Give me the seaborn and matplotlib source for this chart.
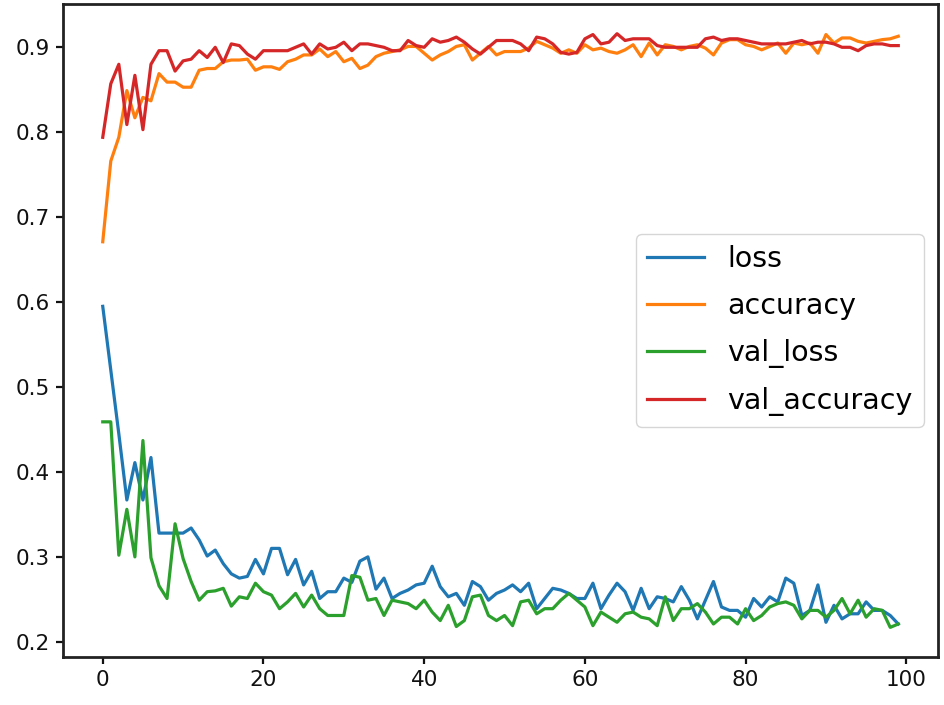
import pandas as pd
import matplotlib
matplotlib.use("Agg")
import matplotlib.pyplot as plt
import seaborn as sns

# training history (100 epochs)
loss = [0.595, 0.52, 0.445, 0.367, 0.411, 0.367, 0.417, 0.328, 0.328, 0.328,
        0.328, 0.334, 0.32, 0.301, 0.308, 0.292, 0.28, 0.275, 0.277, 0.297,
        0.28, 0.31, 0.31, 0.279, 0.297, 0.267, 0.283, 0.251, 0.259, 0.259,
        0.275, 0.27, 0.295, 0.30, 0.262, 0.275, 0.251, 0.257, 0.261, 0.267,
        0.269, 0.289, 0.265, 0.253, 0.257, 0.243, 0.271, 0.265, 0.249, 0.257,
        0.261, 0.267, 0.259, 0.269, 0.239, 0.251, 0.263, 0.261, 0.257, 0.251,
        0.251, 0.269, 0.239, 0.255, 0.269, 0.259, 0.237, 0.263, 0.239, 0.253,
        0.251, 0.247, 0.265, 0.249, 0.227, 0.249, 0.271, 0.241, 0.237, 0.237,
        0.229, 0.251, 0.241, 0.253, 0.247, 0.275, 0.269, 0.231, 0.237, 0.267,
        0.223, 0.243, 0.227, 0.233, 0.233, 0.247, 0.237, 0.237, 0.231, 0.221]

accuracy = [0.671, 0.766, 0.794, 0.849, 0.817, 0.841, 0.837, 0.869, 0.859, 0.859,
            0.853, 0.853, 0.873, 0.875, 0.875, 0.883, 0.885, 0.885, 0.886, 0.873,
            0.877, 0.877, 0.874, 0.883, 0.886, 0.891, 0.891, 0.898, 0.889, 0.895,
            0.883, 0.887, 0.875, 0.879, 0.889, 0.893, 0.895, 0.897, 0.901, 0.901,
            0.893, 0.885, 0.891, 0.895, 0.901, 0.903, 0.885, 0.893, 0.901, 0.891,
            0.895, 0.895, 0.895, 0.899, 0.907, 0.903, 0.899, 0.893, 0.897, 0.893,
            0.903, 0.897, 0.899, 0.895, 0.893, 0.897, 0.903, 0.889, 0.905, 0.891,
            0.903, 0.901, 0.897, 0.901, 0.903, 0.899, 0.891, 0.905, 0.909, 0.909,
            0.903, 0.901, 0.897, 0.901, 0.905, 0.893, 0.905, 0.903, 0.905, 0.893,
            0.915, 0.905, 0.911, 0.911, 0.907, 0.905, 0.907, 0.909, 0.910, 0.913]

val_loss = [0.459, 0.459, 0.302, 0.356, 0.300, 0.437, 0.299, 0.266, 0.251, 0.339,
            0.298, 0.271, 0.249, 0.259, 0.260, 0.263, 0.242, 0.253, 0.251, 0.269,
            0.259, 0.255, 0.239, 0.247, 0.257, 0.241, 0.255, 0.239, 0.231, 0.231,
            0.231, 0.278, 0.276, 0.249, 0.251, 0.231, 0.249, 0.247, 0.245, 0.239,
            0.249, 0.235, 0.225, 0.243, 0.218, 0.225, 0.253, 0.255, 0.231, 0.225,
            0.231, 0.219, 0.247, 0.249, 0.233, 0.239, 0.239, 0.249, 0.257, 0.249,
            0.241, 0.219, 0.235, 0.229, 0.223, 0.233, 0.235, 0.229, 0.227, 0.219,
            0.253, 0.225, 0.239, 0.239, 0.245, 0.235, 0.221, 0.229, 0.229, 0.221,
            0.239, 0.225, 0.231, 0.241, 0.245, 0.247, 0.243, 0.227, 0.237, 0.237,
            0.229, 0.237, 0.251, 0.233, 0.249, 0.229, 0.239, 0.237, 0.217, 0.221]

val_accuracy = [0.794, 0.857, 0.880, 0.809, 0.867, 0.803, 0.880, 0.896, 0.896, 0.872,
                0.884, 0.886, 0.896, 0.888, 0.900, 0.882, 0.904, 0.902, 0.892, 0.886,
                0.896, 0.896, 0.896, 0.896, 0.900, 0.904, 0.892, 0.904, 0.898, 0.900,
                0.906, 0.896, 0.904, 0.904, 0.902, 0.900, 0.896, 0.896, 0.908, 0.902,
                0.900, 0.910, 0.906, 0.908, 0.912, 0.906, 0.898, 0.892, 0.900, 0.908,
                0.908, 0.908, 0.904, 0.896, 0.912, 0.910, 0.904, 0.894, 0.892, 0.894,
                0.910, 0.915, 0.904, 0.906, 0.916, 0.908, 0.910, 0.910, 0.910, 0.902,
                0.900, 0.900, 0.900, 0.900, 0.900, 0.910, 0.912, 0.908, 0.910, 0.910,
                0.908, 0.906, 0.904, 0.904, 0.904, 0.904, 0.906, 0.908, 0.904, 0.906,
                0.906, 0.904, 0.900, 0.900, 0.896, 0.902, 0.904, 0.904, 0.902, 0.902]

history_df = pd.DataFrame({
    'loss': loss,
    'accuracy': accuracy,
    'val_loss': val_loss,
    'val_accuracy': val_accuracy,
})

colors = ['#1f77b4', '#ff7f0e', '#2ca02c', '#d62728']

fig = plt.figure(figsize=(9.44, 7.05), dpi=100)
ax = fig.add_axes([0.0667, 0.068, 0.927, 0.9263])

sns.lineplot(data=history_df, palette=colors, dashes=False, linewidth=2.3, ax=ax)

ax.set_xticks([0, 20, 40, 60, 80, 100])
ax.tick_params(labelsize=15.5, length=5, width=1.6, pad=4.5, colors='#111111')
for spine in ax.spines.values():
    spine.set_linewidth(2.0)
    spine.set_color('#222222')

# rebuild legend without a title, like the pandas default
handles, labels = ax.get_legend_handles_labels()
ax.legend(handles, labels, loc='center right', fontsize=20.5, labelspacing=0.66)

plt.savefig('out.png', dpi=100)
